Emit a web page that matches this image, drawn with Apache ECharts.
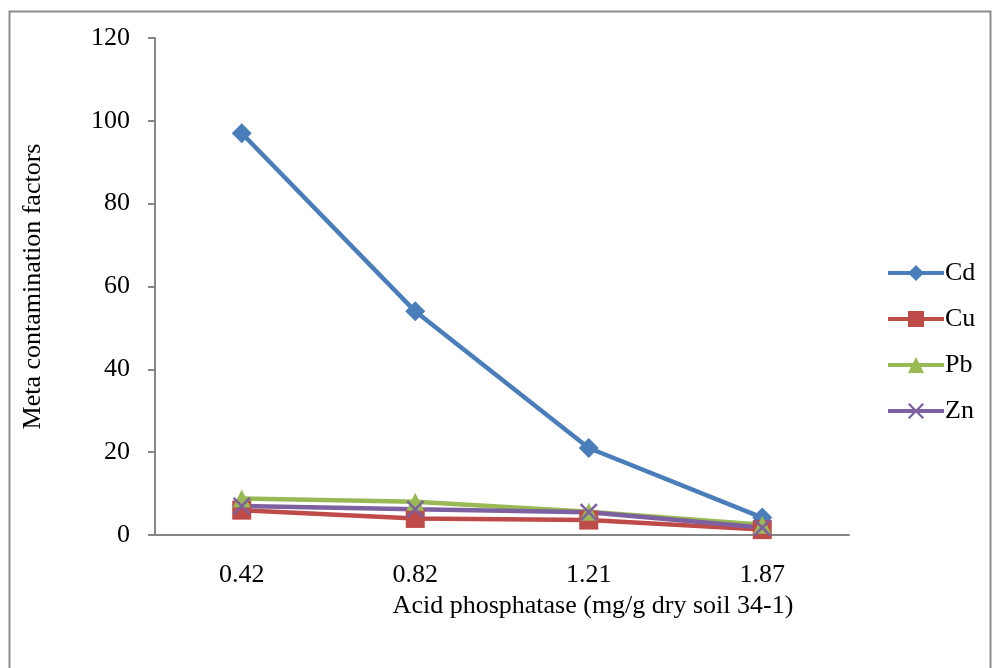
<!DOCTYPE html>
<html>
<head>
<meta charset="utf-8">
<script src="https://cdn.jsdelivr.net/npm/echarts@6/dist/echarts.min.js"></script>
<style>
html,body{margin:0;padding:0;background:#fff;}
#chart{width:997px;height:668px;}
</style>
</head>
<body>
<div id="chart"></div>
<script>
var categories = ['0.42', '0.82', '1.21', '1.87'];
var cd = [97, 54, 21, 4.2];
var cu = [6, 4, 3.6, 1.3];
var pb = [8.8, 8, 5.6, 2.5];
var zn = [7, 6.2, 5.5, 1.8];
var yTicks = { min: 0, max: 120, interval: 20 };

var font = '"Liberation Serif", "Times New Roman", serif';
var xPath = 'path://M0,1L1,0L5,4L9,0L10,1L6,5L10,9L9,10L5,6L1,10L0,9L4,5Z';

function mkSeries(name, data, color, symbol, size) {
  return {
    name: name, type: 'line', data: data,
    symbol: symbol, symbolSize: size,
    lineStyle: { color: color, width: 4.5 },
    itemStyle: { color: color },
    emphasis: { disabled: true },
    animation: false
  };
}

var chart = echarts.init(document.getElementById('chart'), null, { renderer: 'canvas' });
chart.setOption({
  backgroundColor: '#fff',
  animation: false,
  graphic: [{
    type: 'rect', left: 7, top: 9,
    shape: { x: 0, y: 0, width: 981, height: 700 },
    style: { fill: 'none', stroke: '#8c8c8c', lineWidth: 2 },
    silent: true
  }],
  grid: { left: 155, right: 148, top: 38, bottom: 133, containLabel: false },
  legend: {
    orient: 'vertical', left: 886, top: 260, padding: 0,
    itemWidth: 56, itemHeight: 20, itemGap: 20,
    lineStyle: { width: 4 },
    textStyle: { fontFamily: font, fontSize: 26, color: '#000', padding: [0, 0, 0, -4] },
    data: ['Cd', 'Cu', 'Pb', 'Zn']
  },
  xAxis: {
    type: 'category', data: categories, boundaryGap: true,
    axisLine: { lineStyle: { color: '#868686', width: 2 } },
    axisTick: { show: false },
    axisLabel: { fontFamily: font, fontSize: 26, color: '#000', margin: 27 },
    name: 'Acid phosphatase (mg/g dry soil 34-1)',
    nameLocation: 'middle', nameGap: 53,
    nameTextStyle: { fontFamily: font, fontSize: 26, color: '#000', padding: [0, 0, 0, 182] }
  },
  yAxis: {
    type: 'value', min: yTicks.min, max: yTicks.max, interval: yTicks.interval,
    axisLine: { show: true, lineStyle: { color: '#868686', width: 2 } },
    axisTick: { show: true, length: 7, lineStyle: { color: '#868686', width: 2 } },
    splitLine: { show: false },
    axisLabel: { fontFamily: font, fontSize: 26, color: '#000', margin: 25 },
    name: 'Meta contamination factors',
    nameLocation: 'middle', nameGap: 109, nameRotate: 90,
    nameTextStyle: { fontFamily: font, fontSize: 26, color: '#000' }
  },
  series: [
    mkSeries('Cd', cd, '#4A7EBB', 'diamond', 20),
    mkSeries('Cu', cu, '#BE4B48', 'rect', 19),
    mkSeries('Pb', pb, '#98B954', 'triangle', 18),
    mkSeries('Zn', zn, '#7D60A0', xPath, 18)
  ]
});
</script>
</body>
</html>
